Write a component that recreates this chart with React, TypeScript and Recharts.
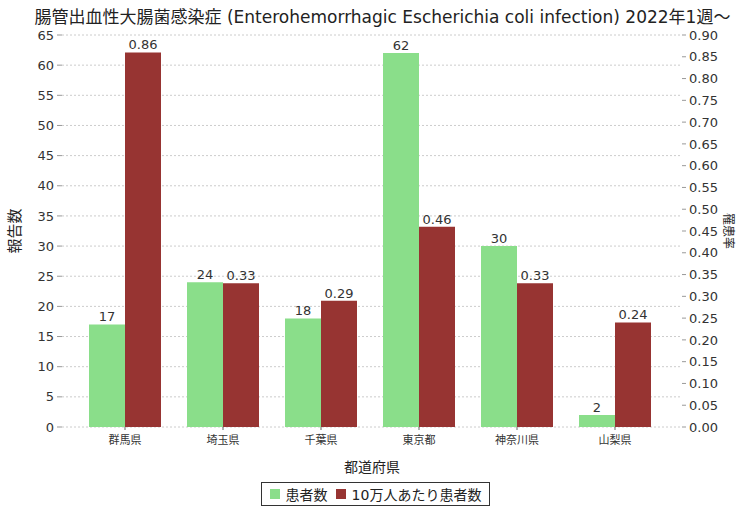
import { Bar, BarChart, CartesianGrid, LabelList, Legend, XAxis, YAxis, Label } from "recharts";

const prefectures = ["群馬県", "埼玉県", "千葉県", "東京都", "神奈川県", "山梨県"];
const patients = [17, 24, 18, 62, 30, 2];
const ratePer100k = [0.86, 0.33, 0.29, 0.46, 0.33, 0.24];
const leftTicks = [0, 5, 10, 15, 20, 25, 30, 35, 40, 45, 50, 55, 60, 65];
const rightTicks = [
  0, 0.05, 0.1, 0.15, 0.2, 0.25, 0.3, 0.35, 0.4, 0.45, 0.5, 0.55, 0.6, 0.65, 0.7, 0.75, 0.8, 0.85, 0.9,
];

const GREEN = "#8ade8a";
const RED = "#973432";
const FONT = "'DejaVu Sans', 'Noto Sans CJK JP', sans-serif";

const data = prefectures.map((p, i) => ({ name: p, count: patients[i], rate: ratePer100k[i] }));

function LegendBox() {
  return (
    <div style={{ display: "flex", justifyContent: "center", paddingLeft: 14 }}>
      <div
        style={{
          border: "1.5px solid #333",
          padding: "1px 8px",
          display: "flex",
          alignItems: "center",
          gap: 6,
          fontSize: 14,
          color: "#222",
          fontFamily: FONT,
          background: "#fff",
        }}
      >
        <span style={{ width: 10, height: 10, background: GREEN, display: "inline-block" }} />
        <span>患者数</span>
        <span style={{ width: 10, height: 10, background: RED, display: "inline-block", marginLeft: 2 }} />
        <span>10万人あたり患者数</span>
      </div>
    </div>
  );
}

export default function App() {
  return (
    <div style={{ position: "absolute", left: 0, top: 0, width: 737, height: 508, background: "#fff", fontFamily: FONT }}>
      <div
        style={{
          position: "absolute",
          top: 6,
          left: 14,
          width: 737,
          textAlign: "center",
          fontSize: 17,
          lineHeight: "22px",
          color: "#222",
          whiteSpace: "nowrap",
        }}
      >
        腸管出血性大腸菌感染症 (Enterohemorrhagic Escherichia coli infection) 2022年1週～
      </div>
      <BarChart
        width={737}
        height={508}
        data={data}
        margin={{ top: 35, right: 0, left: 0, bottom: 2 }}
        barGap={0}
        barCategoryGap={13}
      >
        <CartesianGrid yAxisId="left" vertical={false} stroke="#cccccc" strokeDasharray="2 2" />
        <XAxis
          dataKey="name"
          axisLine={false}
          tickLine={{ stroke: "#666" }}
          tickSize={3}
          tickMargin={6}
          height={55}
          padding={{ left: 14, right: 18 }}
          tick={{ fontSize: 11, fill: "#333", fontFamily: FONT }}
        >
          <Label value="都道府県" position="insideBottom" offset={10} style={{ fontSize: 14, fill: "#222", fontFamily: FONT }} />
        </XAxis>
        <YAxis
          yAxisId="left"
          width={62}
          domain={[0, 65]}
          ticks={leftTicks}
          interval={0}
          axisLine={false}
          tickLine={{ stroke: "#999" }}
          tickSize={5}
          tickMargin={3}
          tick={{ fontSize: 13, fill: "#333", fontFamily: FONT }}
        >
          <Label value="報告数" angle={-90} position="insideLeft" offset={15} style={{ fontSize: 15, fill: "#222", fontFamily: FONT, textAnchor: "middle" }} />
        </YAxis>
        <YAxis
          yAxisId="right"
          orientation="right"
          width={55}
          domain={[0, 0.9]}
          ticks={rightTicks}
          interval={0}
          axisLine={false}
          tickLine={{ stroke: "#999" }}
          tickSize={4}
          tickMargin={3}
          tickFormatter={(v: number) => v.toFixed(2)}
          tick={{ fontSize: 13, fill: "#333", fontFamily: FONT }}
        >
          <Label value="罹患率" angle={90} position="insideRight" offset={9} style={{ fontSize: 12, fill: "#222", fontFamily: FONT, textAnchor: "middle" }} />
        </YAxis>
        <Legend verticalAlign="bottom" height={24} content={() => <LegendBox />} />
        <Bar yAxisId="left" dataKey="count" name="患者数" fill={GREEN} isAnimationActive={false}>
          <LabelList dataKey="count" position="top" offset={3} style={{ fontSize: 13, fill: "#333", fontFamily: FONT }} />
        </Bar>
        <Bar yAxisId="right" dataKey="rate" name="10万人あたり患者数" fill={RED} isAnimationActive={false}>
          <LabelList
            dataKey="rate"
            position="top"
            offset={3}
            formatter={(v: number) => v.toFixed(2)}
            style={{ fontSize: 13, fill: "#333", fontFamily: FONT }}
          />
        </Bar>
      </BarChart>
    </div>
  );
}
